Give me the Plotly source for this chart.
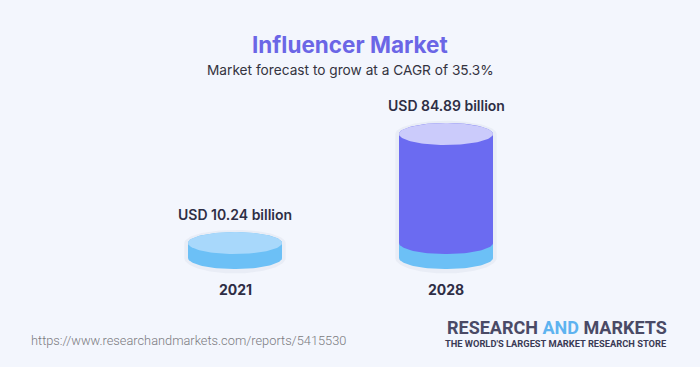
import numpy as np
import plotly.graph_objects as go

# ---- data ----
years = ["2021", "2028"]
values = [10.24, 84.89]           # USD billion
value_labels = ["USD 10.24 billion", "USD 84.89 billion"]
title = "Influencer Market"
subtitle = "Market forecast to grow at a CAGR of 35.3%"
source_url = "https://www.researchandmarkets.com/reports/5415530"

# ---- style ----
W, H = 700, 367
BG = "#f3f6fd"
LID_2021 = "#a8d8fb"
BODY_BLUE = "#6cc0f6"
LID_2028 = "#cbcbfb"
BODY_PURPLE = "#6b6bf1"
TITLE_COL = "#6b66e6"
TEXT_COL = "#2e2e45"

# axis layout (pixel geometry)
x_centers_px = [235, 446]
half_w_px = 47
base_px = 258          # pixel row of value 0
top_px = 134           # pixel row of max value
px_per_x = x_centers_px[1] - x_centers_px[0]
x0 = -x_centers_px[0] / px_per_x
x1 = x0 + W / px_per_x
px_per_y = (base_px - top_px) / max(values)
y0 = -(H - base_px) / px_per_y
y1 = y0 + H / px_per_y
a = half_w_px / px_per_x
b = 11 / px_per_y

t = np.linspace(0, np.pi, 60)

def segment(cx, ylo, yhi, color):
    xs = list(cx - a * np.cos(t)) + list(cx + a * np.cos(t))
    ys = list(ylo - b * np.sin(t)) + list(yhi + b * np.sin(t))
    return go.Scatter(x=xs + [xs[0]], y=ys + [ys[0]], mode="lines", fill="toself",
                      fillcolor=color, line=dict(width=0, color=color),
                      hoverinfo="skip", showlegend=False)

def lid(cx, y, color):
    tt = np.linspace(0, 2 * np.pi, 120)
    return go.Scatter(x=cx + a * np.cos(tt), y=y + b * np.sin(tt), mode="lines",
                      fill="toself", fillcolor=color, line=dict(width=0, color=color),
                      hoverinfo="skip", showlegend=False)

def shadow(cx, ylo, yhi):
    s = 1.08
    xs = list(cx - a * s * np.cos(t)) + list(cx + a * s * np.cos(t))
    ys = list(ylo - b * 1.4 * np.sin(t)) + list(yhi + b * 1.2 * np.sin(t))
    return go.Scatter(x=xs + [xs[0]], y=ys + [ys[0]], mode="lines", fill="toself",
                      fillcolor="rgba(60,70,120,0.05)", line=dict(width=0),
                      hoverinfo="skip", showlegend=False)

fig = go.Figure()
fig.add_trace(shadow(0, 0, values[0]))
fig.add_trace(segment(0, 0, values[0], BODY_BLUE))
fig.add_trace(lid(0, values[0], LID_2021))
fig.add_trace(shadow(1, 0, values[1]))
fig.add_trace(segment(1, 0, values[0], BODY_BLUE))
fig.add_trace(segment(1, values[0], values[1], BODY_PURPLE))
fig.add_trace(lid(1, values[1], LID_2028))

FONT = "Inter, Noto Sans, sans-serif"
NARROW = "Liberation Sans Narrow, Roboto, sans-serif"
ann = []
for i, (yr, v, lab) in enumerate(zip(years, values, value_labels)):
    ann.append(dict(x=i, y=v, xref="x", yref="y", text=lab, showarrow=False,
                    xanchor="center", yanchor="middle",
                    yshift=b * px_per_y + 18, font=dict(family=FONT, size=14, color=TEXT_COL, weight=600)))
    ann.append(dict(x=i, y=0, xref="x", yref="y", text=yr, showarrow=False,
                    xanchor="center", yanchor="middle",
                    yshift=-31, font=dict(family=FONT, size=14, color=TEXT_COL, weight=700)))

def paper(xpx, ypx, text, font, xanchor="center"):
    return dict(x=xpx / W, y=1 - ypx / H, xref="paper", yref="paper", text=text,
                showarrow=False, xanchor=xanchor, yanchor="middle", font=font)

ann += [
    paper(350, 44, title, dict(family=FONT, size=22.5, color=TITLE_COL, weight=700)),
    paper(350, 70, subtitle, dict(family=FONT, size=13.7, color="#333340")),
    paper(29, 340, source_url, dict(family="Roboto, sans-serif", size=12.8, color="#7a7a80", weight=300), "left"),
    paper(669, 327, "RESEARCH <span style='color:#5db3f0'>AND</span> MARKETS",
          dict(family=NARROW, size=18, color="#4a4a66", weight=700), "right"),
    paper(669, 343, "THE WORLD'S LARGEST MARKET RESEARCH STORE",
          dict(family=NARROW, size=9.3, color="#3a3a55", weight=700), "right"),
]

fig.update_layout(
    width=W, height=H, margin=dict(l=0, r=0, t=0, b=0),
    paper_bgcolor=BG, plot_bgcolor=BG,
    xaxis=dict(range=[x0, x1], visible=False, fixedrange=True),
    yaxis=dict(range=[y0, y1], visible=False, fixedrange=True),
    annotations=ann, showlegend=False,
)
fig.write_html("out.html", config={"displayModeBar": False},
               post_script="document.body.style.margin='0';document.body.style.background='" + BG + "';")
